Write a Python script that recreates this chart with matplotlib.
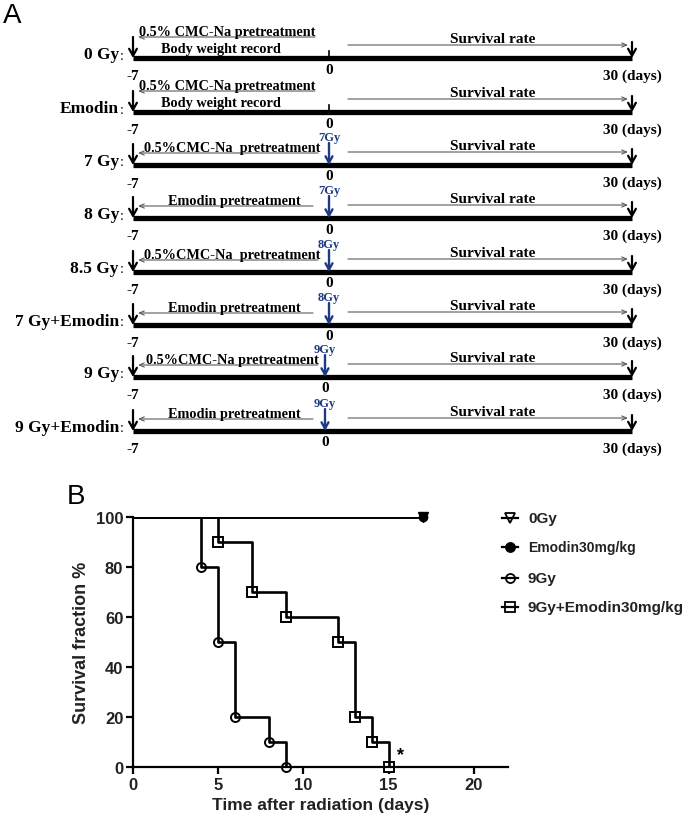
import matplotlib
matplotlib.use("Agg")
import matplotlib.pyplot as plt
from matplotlib.lines import Line2D

W, H = 683, 820
fig = plt.figure(figsize=(W / 100, H / 100), dpi=100)

# ---------------- Panel A data ----------------
row_labels = ["0 Gy", "Emodin", "7 Gy", "8 Gy", "8.5 Gy", "7 Gy+Emodin", "9 Gy", "9 Gy+Emodin"]
pretreat_texts = ["0.5% CMC-Na pretreatment", "0.5% CMC-Na pretreatment",
                  "0.5%CMC-Na  pretreatment", "Emodin pretreatment",
                  "0.5%CMC-Na  pretreatment", "Emodin pretreatment",
                  "0.5%CMC-Na pretreatment", "Emodin pretreatment"]
weight_texts = ["Body weight record", "Body weight record", "", "", "", "", "", ""]
dose_labels = ["", "", "7Gy", "7Gy", "8Gy", "8Gy", "9Gy", "9Gy"]
timeline_days = [-7, 0, 30]
timeline_day_labels = ["-7", "0", "30 (days)"]
survival_text = "Survival rate"

# ---------------- Panel B data ----------------
t_0gy = [0, 17]
s_0gy = [100, 100]
t_emodin = [0, 17]
s_emodin = [100, 100]
t_9gy = [0, 4, 5, 6, 8, 9]
s_9gy = [100, 80, 50, 20, 10, 0]
t_9gy_emodin = [0, 5, 7, 9, 12, 13, 14, 15]
s_9gy_emodin = [100, 90, 70, 60, 50, 20, 10, 0]
legend_labels = ["0Gy", "Emodin30mg/kg", "9Gy", "9Gy+Emodin30mg/kg"]
x_ticks = [0, 5, 10, 15, 20]
y_ticks = [0, 20, 40, 60, 80, 100]

# ---------------- Panel A drawing (pixel layout axes) ----------------
axA = fig.add_axes([0, 0, 1, 1])
axA.set_xlim(0, W)
axA.set_ylim(H, 0)
axA.axis("off")

serif = "Liberation Serif"
sans = "Liberation Sans"
blue = "#1d3b84"
gray = "#5a5a5a"

# screen positions of the three timeline days (non-linear schematic)
day_x = dict(zip(timeline_days, [133, 329, 632]))
bar_y = [59, 113, 166, 219, 273, 326, 378, 432]
zero_x = [329, 329, 329, 329, 329, 329, 325, 325]

axA.text(3, 16, "A", fontsize=20, family=sans, va="center", ha="left")

def arrow(x0, y0, x1, y1, color, lw, hl, hw):
    axA.annotate("", xy=(x1, y1), xytext=(x0, y0), xycoords="data",
                 arrowprops=dict(arrowstyle=f"->,head_length={hl},head_width={hw}",
                                 color=color, lw=lw, shrinkA=0, shrinkB=0))

for i, yb in enumerate(bar_y):
    x_start = day_x[-7]
    x_end = day_x[30]
    x0 = zero_x[i]
    # main bar
    axA.plot([x_start, x_end], [yb, yb], color="black", lw=3.8, solid_capstyle="butt")
    # row label
    axA.text(119, yb - 4, row_labels[i], fontsize=12.5, family=serif, weight="bold",
             ha="right", va="center")
    axA.text(120, yb - 3, ":", fontsize=10, family=serif, ha="left", va="center")
    # start / end arrows
    arrow(x_start, yb - 21, x_start, yb, "black", 1.6, 0.5, 0.28)
    arrow(x_end, yb - 16, x_end, yb, "black", 1.6, 0.5, 0.28)
    # day labels
    axA.text(x_start, yb + 18, timeline_day_labels[0], fontsize=11, family=serif,
             weight="bold", ha="center", va="center")
    axA.text(x0, yb + 11, timeline_day_labels[1], fontsize=11, family=serif,
             weight="bold", ha="center", va="center")
    axA.text(x_end, yb + 17, timeline_day_labels[2], fontsize=11, family=serif,
             weight="bold", ha="center", va="center")
    # survival rate
    arrow(348, yb - 13, x_end - 4, yb - 13, gray, 0.8, 0.35, 0.15)
    axA.text(493, yb - 16, survival_text, fontsize=11, family=serif, weight="bold",
             ha="center", va="baseline")
    if dose_labels[i] == "":
        # small tick at day 0
        axA.plot([x0, x0], [yb - 7, yb], color="black", lw=1.2)
        arrow(315, yb - 21, 138, yb - 21, gray, 0.8, 0.35, 0.15)
        axA.text(227, yb - 23, pretreat_texts[i], fontsize=10.3, family=serif,
                 weight="bold", ha="center", va="baseline")
        axA.text(221, yb - 6, weight_texts[i], fontsize=10.3, family=serif,
                 weight="bold", ha="center", va="baseline")
    else:
        arrow(x0, yb - 22, x0, yb, blue, 1.7, 0.45, 0.25)
        axA.text(x0, yb - 28, dose_labels[i], fontsize=9, family=serif, weight="bold",
                 color=blue, ha="center", va="center")
        end_pt = 318 if "CMC" in pretreat_texts[i] else 313
        arrow(end_pt, yb - 12, 138, yb - 12, gray, 0.8, 0.35, 0.15)
        cx = 232 if "CMC" in pretreat_texts[i] else 234
        axA.text(cx, yb - 14, pretreat_texts[i], fontsize=10.3, family=serif,
                 weight="bold", ha="center", va="baseline")

# ---------------- Panel B ----------------
axB = fig.add_axes([133 / W, 1 - 768 / H, (508 - 133) / W, (768 - 518) / H])
axB.set_facecolor("none")
axB.set_xlim(0, 22)
axB.set_ylim(0, 100)
for s in ["top", "right"]:
    axB.spines[s].set_visible(False)
for s in ["left", "bottom"]:
    axB.spines[s].set_linewidth(1.6)
axB.set_xticks(x_ticks)
axB.set_yticks(y_ticks)
axB.tick_params(direction="out", length=5, width=1.6, labelsize=12, pad=2)
for lab in axB.get_xticklabels() + axB.get_yticklabels():
    lab.set_family(sans)
    lab.set_weight("bold")
    lab.set_color("#222222")
axB.set_xlabel("Time after radiation (days)", fontsize=12.5, family=sans, weight="bold",
               color="#222222", labelpad=4)
axB.set_ylabel("Survival fraction %", fontsize=13, family=sans, weight="bold",
               color="#222222", labelpad=4)

lw_step = 1.9
axB.step(t_emodin, s_emodin, where="post", color="black", lw=lw_step, zorder=3)
axB.step(t_0gy, s_0gy, where="post", color="black", lw=lw_step, zorder=3)
axB.step(t_9gy, s_9gy, where="post", color="black", lw=lw_step, zorder=3)
axB.step(t_9gy_emodin, s_9gy_emodin, where="post", color="black", lw=lw_step, zorder=3)

axB.plot(t_emodin[-1:], s_emodin[-1:], "o", ms=6, color="black", clip_on=False, zorder=5)
axB.plot(t_0gy[-1:], s_0gy[-1:], "v", ms=7, color="black", clip_on=False, zorder=6)
axB.plot(t_9gy[1:], s_9gy[1:], "o", ms=6.5, mfc="white", mec="black", mew=1.4,
         clip_on=False, zorder=2)
axB.plot(t_9gy_emodin[1:], s_9gy_emodin[1:], "s", ms=6.5, mfc="white", mec="black",
         mew=1.4, clip_on=False, zorder=2)
axB.text(15.7, 5, "*", fontsize=13, family=sans, weight="bold", ha="center", va="center")

fig.text(67 / W, 1 - 497 / H, "B", fontsize=20, family=sans, va="center", ha="left")

# legend (manual, figure pixel layout)
leg_y = [519, 548, 579, 608]
leg_markers = [dict(marker="v", mfc="white"), dict(marker="o", mfc="black"),
               dict(marker="o", mfc="white"), dict(marker="s", mfc="white")]
leg_sizes = [11, 10, 11, 11]
for ly, mk, lab, fs in zip(leg_y, leg_markers, legend_labels, leg_sizes):
    axA.add_line(Line2D([510], [ly], marker=mk["marker"], mfc=mk["mfc"], mec="black",
                        mew=1.3, ms=6.5, ls="none", zorder=3))
    axA.add_line(Line2D([502, 518], [ly, ly], color="black", lw=1.6, zorder=4))
    axA.text(528, ly, lab, fontsize=fs, family=sans, weight="bold", color="#222222",
             ha="left", va="center")

fig.savefig("out.png", dpi=100)
